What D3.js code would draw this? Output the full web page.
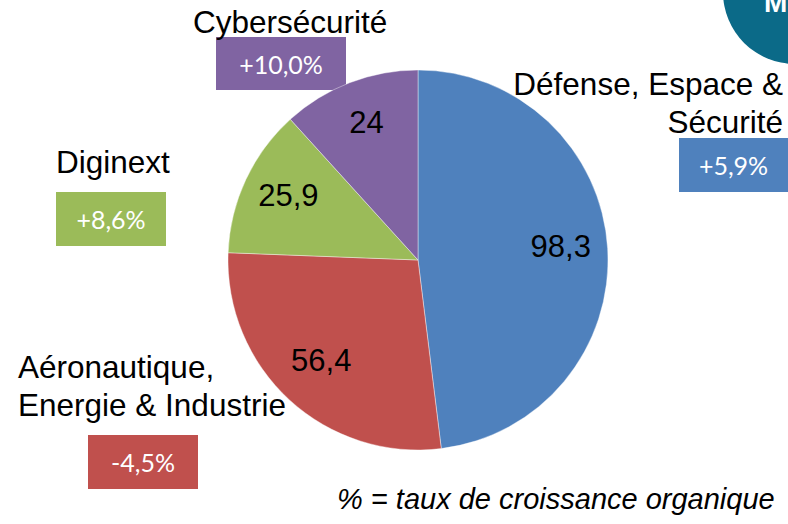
<!DOCTYPE html>
<html>
<head>
<meta charset="utf-8">
<script src="https://cdn.jsdelivr.net/npm/d3@7"></script>
<style>
  html, body { margin: 0; padding: 0; background: #ffffff; }
  svg { display: block; }
</style>
</head>
<body>
<svg id="chart" width="788" height="524"></svg>
<script>
// ---- data ----
const categories = ["Défense, Espace & Sécurité", "Aéronautique, Energie & Industrie", "Diginext", "Cybersécurité"];
const categoryLines = [["Défense, Espace &", "Sécurité"], ["Aéronautique,", "Energie & Industrie"], ["Diginext"], ["Cybersécurité"]];
const values = [98.3, 56.4, 25.9, 24];
const growth = [5.9, -4.5, 8.6, 10.0];
const colors = ["#4f81bd", "#c0504d", "#9bbb59", "#8064a2"];
const footnote = "% = taux de croissance organique";

// ---- layout ----
const W = 788, H = 524;
const cx = 418, cy = 260, R = 190;
const labelFont = "'Liberation Sans', Arial, sans-serif";
const boxFont = "Lato, 'Open Sans', sans-serif";

// label layout for each category (positions only)
const labelLayout = [
  { anchor: "end",   x: 783, y: 95,  box: [679, 138, 109, 54] },
  { anchor: "start", x: 18,  y: 378, box: [88, 435, 110, 54] },
  { anchor: "start", x: 56,  y: 173, box: [56, 192, 110, 54] },
  { anchor: "start", x: 193, y: 33,  box: [216, 37, 130, 53] }
];

const fr = d3.formatLocale({ decimal: ",", thousands: " ", grouping: [3], currency: ["", " €"], minus: "-" });
const fmtVal = fr.format(".3~r");
const fmtGrowth = v => fr.format("+.1f")(v) + "%";

const svg = d3.select("#chart");

// teal logo circle top-right
svg.append("circle").attr("cx", 795).attr("cy", -8).attr("r", 72).attr("fill", "#0b6a88");
svg.append("text").attr("x", 764).attr("y", 12).attr("fill", "#ffffff")
  .attr("font-family", labelFont).attr("font-weight", "bold").attr("font-size", 28).text("M");

const pie = d3.pie().sort(null).value(d => d.value);
const arcs = pie(values.map((v, i) => ({ value: v, i })));
const arc = d3.arc().innerRadius(0).outerRadius(R);
const labelArc = d3.arc().innerRadius(143).outerRadius(143);

// growth boxes
const lab = svg.append("g");
labelLayout.forEach((L, i) => {
  const [bx, by, bw, bh] = L.box;
  lab.append("rect").attr("x", bx).attr("y", by).attr("width", bw).attr("height", bh).attr("fill", colors[i]);
  lab.append("text").attr("x", bx + bw / 2).attr("y", by + 37)
    .attr("text-anchor", "middle").attr("fill", "#ffffff")
    .attr("font-family", boxFont).attr("font-size", 25)
    .text(fmtGrowth(growth[i]));
});

// pie
const g = svg.append("g").attr("transform", `translate(${cx},${cy})`);
g.selectAll("path.slice").data(arcs).join("path")
  .attr("class", "slice")
  .attr("d", arc)
  .attr("fill", d => colors[d.data.i])
  .attr("stroke", "#ffffff").attr("stroke-opacity", 0.4).attr("stroke-width", 1);

g.selectAll("text.val").data(arcs).join("text")
  .attr("class", "val")
  .attr("transform", d => `translate(${labelArc.centroid(d)})`)
  .attr("text-anchor", "middle").attr("dy", "0.2em")
  .attr("font-family", labelFont).attr("font-size", 31).attr("fill", "#000000")
  .text(d => fmtVal(d.data.value));

// category labels
labelLayout.forEach((L, i) => {
  const t = svg.append("text").attr("text-anchor", L.anchor)
    .attr("font-family", labelFont).attr("font-size", 31.5).attr("fill", "#000000");
  categoryLines[i].forEach((line, k) => {
    t.append("tspan").attr("x", L.x).attr("y", L.y + k * 37.5).text(line);
  });
});

// footnote
svg.append("text").attr("x", 337).attr("y", 509)
  .attr("font-family", labelFont).attr("font-style", "italic").attr("font-size", 29).attr("fill", "#000000")
  .text(footnote);
</script>
</body>
</html>
